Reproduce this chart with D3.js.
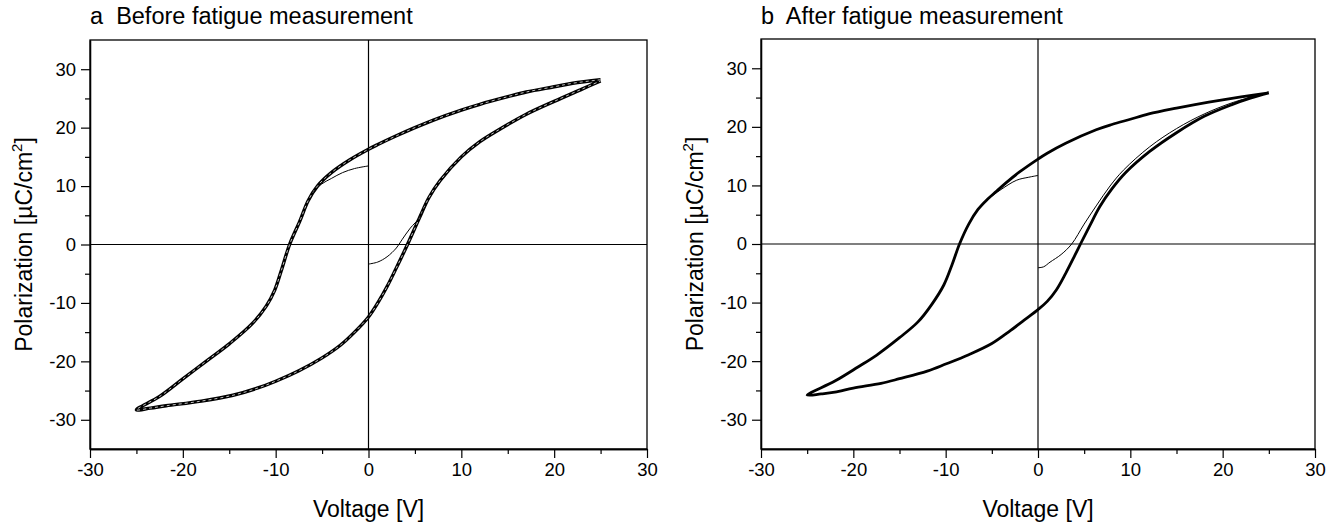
<!DOCTYPE html>
<html>
<head>
<meta charset="utf-8">
<script src="https://cdn.jsdelivr.net/npm/d3@7"></script>
<style>
  body { margin: 0; background: #fff; }
  text { font-family: "Liberation Sans", Arial, sans-serif; fill: #000; }
</style>
</head>
<body>
<svg id="chart" width="1337" height="524"></svg>
<script>
// tick values shared by both panels
const xMajor = [-30, -20, -10, 0, 10, 20, 30];
const xMinor = [-25, -15, -5, 5, 15, 25];
const yMajor = [-30, -20, -10, 0, 10, 20, 30];
const yMinor = [-25, -15, -5, 5, 15, 25];

// panel a - before fatigue: descending branch (V, P) from +25 to -25
const upperA = [
  [25, 28.2], [22, 27.6], [20, 27.0], [17, 26.1], [15, 25.3], [12, 24.0], [10, 23.0],
  [7, 21.3], [5, 20.0], [3, 18.6], [1, 17.1], [0, 16.3], [-2, 14.5], [-4, 12.3],
  [-5.5, 10.0], [-6.5, 7.5], [-7.4, 4.0], [-8.5, 0], [-9.4, -4.5], [-10.1, -7.8],
  [-11, -10.5], [-12.5, -13.5], [-15, -17.0], [-17.5, -20.0], [-20, -23.0], [-22.5, -26.0], [-25, -28.3]
];
// panel a - ascending branch from -25 to +25
const lowerA = [
  [-25, -28.3], [-23.5, -28.0], [-21.8, -27.6], [-18, -26.8], [-14.6, -25.8], [-12, -24.6],
  [-10, -23.4], [-7.5, -21.6], [-5, -19.4], [-3, -17.2], [-1.5, -15.0], [0, -12.4],
  [1, -10.0], [2, -7.2], [3, -4.0], [4.2, 0], [5.5, 4.6], [6.5, 8.0], [7.7, 10.9],
  [10, 15.0], [12, 17.6], [14, 19.6], [17, 22.3], [20, 24.5], [23, 26.6], [25, 28.0]
];
// panel a - first (virgin) branch and the end of the last cycle
const startA = [[0, -3.35], [1, -3.0], [2, -2.1], [3, -0.6], [3.6, 0.8], [4.5, 2.8], [5.5, 4.6], [6.3, 7.2]];
const endA = [[-6, 8.9], [-5.1, 10.3], [-4, 11.3], [-2.8, 12.3], [-1.5, 13.0], [0, 13.45]];

// panel b - after fatigue
const upperB = [
  [25, 25.8], [22, 25.1], [20, 24.6], [17, 23.8], [15, 23.2], [12, 22.2], [10, 21.3],
  [8, 20.4], [6.3, 19.5], [3, 17.2], [1, 15.5], [0, 14.5], [-2, 12.3], [-3.5, 10.4],
  [-4.5, 9.0], [-5.5, 7.6], [-6.5, 5.9], [-7.5, 3.4], [-8.5, 0], [-9.3, -3.5], [-10.2, -7.0],
  [-11.5, -10.3], [-13, -13.3], [-15, -16.0], [-17.5, -19.0], [-19.5, -21.0], [-22, -23.4], [-25, -25.8]
];
const lowerB = [
  [-25, -25.8], [-23.5, -25.6], [-22, -25.3], [-20, -24.6], [-17, -23.8], [-15, -23.0],
  [-12, -21.7], [-10, -20.5], [-7.5, -18.9], [-5, -17.0], [-3, -14.8], [-1.5, -13.0],
  [0, -11.2], [1, -9.8], [2, -7.8], [3, -5.0], [4, -1.9], [4.6, 0], [5.6, 3.1], [6.7, 6.4],
  [8, 9.4], [9.5, 12.2], [12.1, 15.8], [15, 19.0], [18, 21.8], [21, 23.8], [23, 24.9], [25, 25.8]
];
const startB = [
  [0, -4.05], [0.6, -3.9], [1.3, -3.1], [2.5, -1.8], [3.65, 0], [5, 3.4], [6.3, 6.5],
  [7.8, 9.9], [9.25, 12.6], [12.1, 16.6], [15, 19.7], [18, 22.2], [21, 24.1], [24, 25.5]
];
const endB = [[-6.5, 5.9], [-5.6, 7.4], [-4, 9.3], [-2.3, 10.9], [-1, 11.4], [0, 11.7]];

const svg = d3.select("#chart");
const fontFamily = '"Liberation Sans", Arial, sans-serif';

function drawPanel(opt) {
  const x = d3.scaleLinear().domain([-30, 30]).range([opt.left, opt.right]);
  const y = d3.scaleLinear().domain([-35, 35]).range([opt.bottom, opt.top]);
  const g = svg.append("g");

  const line = d3.line()
    .x(d => x(d[0]))
    .y(d => y(d[1]))
    .curve(d3.curveCatmullRom.alpha(0.5));

  // zero lines
  g.append("line")
    .attr("x1", x(0)).attr("x2", x(0))
    .attr("y1", opt.top).attr("y2", opt.bottom)
    .attr("stroke", "#000").attr("stroke-width", 1.2);
  g.append("line")
    .attr("x1", opt.left).attr("x2", opt.right)
    .attr("y1", y(0)).attr("y2", y(0))
    .attr("stroke", "#000").attr("stroke-width", 1.2);

  // loop (several overlapping cycles)
  const loop = opt.upper.concat(opt.lower.slice(1));
  g.append("path")
    .attr("d", line(loop))
    .attr("fill", "none")
    .attr("stroke", "#000")
    .attr("stroke-width", opt.loopWidth)
    .attr("stroke-linejoin", "round");
  if (opt.inner) {
    g.append("path")
      .attr("d", line(loop))
      .attr("fill", "none")
      .attr("stroke", opt.inner)
      .attr("stroke-width", 0.9)
      .attr("stroke-dasharray", "3,3");
  }

  // thin branches
  [opt.start, opt.end].forEach(s => {
    g.append("path")
      .attr("d", line(s))
      .attr("fill", "none")
      .attr("stroke", "#000")
      .attr("stroke-width", 1);
  });

  // frame
  g.append("rect")
    .attr("x", opt.left).attr("y", opt.top)
    .attr("width", opt.right - opt.left).attr("height", opt.bottom - opt.top)
    .attr("fill", "none").attr("stroke", "#000").attr("stroke-width", 1.3);

  // axes
  const fmt = d => String(d);
  g.append("g").attr("transform", `translate(0,${opt.bottom})`)
    .call(d3.axisBottom(x).tickValues(xMajor).tickSize(9).tickSizeOuter(0).tickPadding(5).tickFormat(fmt));
  g.append("g").attr("transform", `translate(0,${opt.bottom})`)
    .call(d3.axisBottom(x).tickValues(xMinor).tickSize(5).tickSizeOuter(0).tickFormat(""));
  g.append("g").attr("transform", `translate(${opt.left},0)`)
    .call(d3.axisLeft(y).tickValues(yMajor).tickSize(9).tickSizeOuter(0).tickPadding(5).tickFormat(fmt));
  g.append("g").attr("transform", `translate(${opt.left},0)`)
    .call(d3.axisLeft(y).tickValues(yMinor).tickSize(5).tickSizeOuter(0).tickFormat(""));

  g.selectAll(".domain").attr("stroke", "#000").attr("stroke-width", 1.3);
  g.selectAll(".tick line").attr("stroke", "#000").attr("stroke-width", 1.2);
  g.selectAll(".tick text")
    .style("font-family", fontFamily)
    .style("font-size", "18.5px")
    .attr("fill", "#000");

  // titles
  g.append("text")
    .attr("x", opt.left).attr("y", 24)
    .style("font-size", "23.5px")
    .style("white-space", "pre")
    .text(opt.title);
  g.append("text")
    .attr("x", (opt.left + opt.right) / 2).attr("y", 517)
    .attr("text-anchor", "middle")
    .style("font-size", "23px")
    .text("Voltage [V]");
  const yt = g.append("text")
    .attr("transform", `translate(${opt.left - 58},${y(0)}) rotate(-90)`)
    .attr("text-anchor", "middle")
    .style("font-size", "23px");
  yt.append("tspan").text("Polarization [µC/cm");
  yt.append("tspan").attr("dy", -10).style("font-size", "15px").text("2");
  yt.append("tspan").attr("dy", 10).text("]");
}

drawPanel({
  left: 90, right: 647, top: 40, bottom: 449,
  title: "a  Before fatigue measurement",
  upper: upperA, lower: lowerA, start: startA, end: endA,
  loopWidth: 3.4, inner: "#d8d8d8"
});

drawPanel({
  left: 761, right: 1315, top: 39, bottom: 449,
  title: "b  After fatigue measurement",
  upper: upperB, lower: lowerB, start: startB, end: endB,
  loopWidth: 2.8, inner: null
});
</script>
</body>
</html>
